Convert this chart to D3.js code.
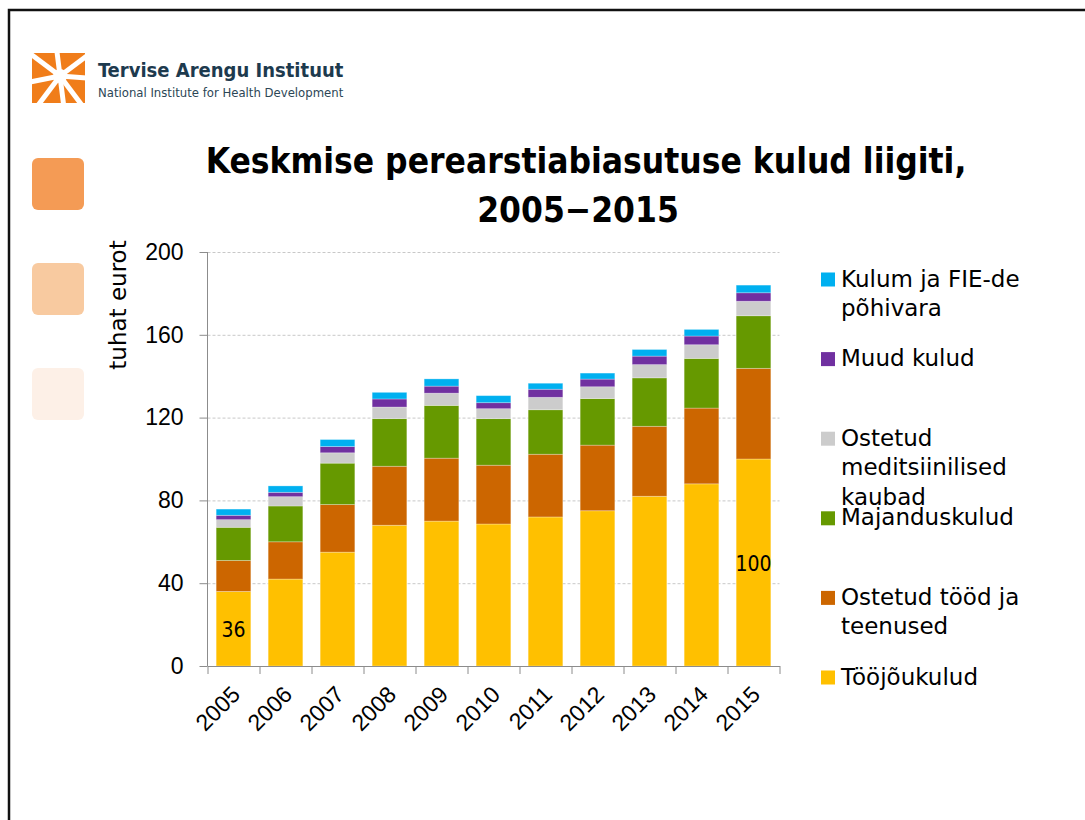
<!DOCTYPE html>
<meta charset="utf-8">
<style>

body {
  margin: 0;
  background: #fff;
}

svg {
  display: block;
  font-family: 'DejaVu Sans Condensed', 'DejaVu Sans', sans-serif;
}

.title
{
    font-size: 35px;
    font-weight: bold;
}

.tick text
{
    font-size: 23px;
    fill: #000;
}

.legend, .ylabel
{
    font-family: 'DejaVu Sans', sans-serif;
    font-size: 23px;
}

.grid line
{
    stroke: #c8c8c8;
    stroke-dasharray: 3,2;
}

</style>
<body>
<div id='chart'></div>
<script src="https://cdn.jsdelivr.net/npm/d3@7"></script>
<script>
// values in thousand euros
var years = ['2005','2006','2007','2008','2009','2010','2011','2012','2013','2014','2015']
var toojoukulud = [36, 42, 55, 68, 70, 68.6, 72, 75, 82, 88, 100]
var ostetudTood = [15, 18, 23, 28.5, 30.4, 28.4, 30.3, 31.7, 33.8, 36.6, 43.8]
var majanduskulud = [16, 17.3, 20, 23, 25.5, 22.5, 21.5, 22.5, 23.4, 24, 25.4]
var meditsiin = [3.7, 4.5, 5, 5.6, 5.9, 4.8, 6, 5.7, 6.4, 6.6, 7]
var muudKulud = [2.1, 2.1, 3, 3.9, 3.4, 2.9, 3.9, 3.7, 4.1, 4.2, 4.1]
var kulum = [3, 3.1, 3.4, 3.2, 3.5, 3.4, 2.9, 2.9, 3.2, 3.2, 3.7]

var seriesKeys = ['toojoukulud','ostetudTood','majanduskulud','meditsiin','muudKulud','kulum']
var seriesValues = [toojoukulud, ostetudTood, majanduskulud, meditsiin, muudKulud, kulum]
var seriesColors = ['#ffc000','#cc6600','#669900','#cccccc','#7030a0','#00b0f0']
var legendLabels = [
  ['Tööjõukulud'],
  ['Ostetud tööd ja','teenused'],
  ['Majanduskulud'],
  ['Ostetud','meditsiinilised','kaubad'],
  ['Muud kulud'],
  ['Kulum ja FIE-de','põhivara']
]
var yTicks = [0, 40, 80, 120, 160, 200]
var labelled = {'2005': 36, '2015': 100}

var svg = d3.select('#chart')
            .append('svg')
            .attr('width', 1085)
            .attr('height', 820)

// slide frame
svg.append('path')
   .attr('d', 'M9,822 L9,10 L1090,10')
   .attr('fill', 'none')
   .attr('stroke', '#111')
   .attr('stroke-width', 2.5)

// logo
var logo = svg.append('g')
logo.append('rect')
    .attr('x', 32).attr('y', 53)
    .attr('width', 53).attr('height', 50)
    .attr('fill', '#f07d1a')
var rays = [[-40,-30],[-5,-40],[40,-30],[-40,8],[40,3],[-30,40],[5,40],[30,40]]
rays.forEach(function(r){
  logo.append('line')
      .attr('x1', 60).attr('y1', 76)
      .attr('x2', 60 + r[0]).attr('y2', 76 + r[1])
      .attr('stroke', '#fff')
      .attr('stroke-width', 5)
})
logo.append('circle')
    .attr('cx', 60).attr('cy', 76).attr('r', 7)
    .attr('fill', '#fff')

svg.append('text')
   .attr('x', 98)
   .attr('y', 77)
   .attr('font-size', 20)
   .attr('font-weight', 'bold')
   .attr('fill', '#1d3a4e')
   .text('Tervise Arengu Instituut')

svg.append('text')
   .attr('x', 98)
   .attr('y', 97)
   .attr('font-size', 11.7)
   .attr('font-family', 'DejaVu Sans, sans-serif')
   .attr('fill', '#2c4656')
   .text('National Institute for Health Development')

// decorative squares on the left
var squareColors = ['#f49b55', '#f8caa0', '#fdf0e7']
squareColors.forEach(function(c, i){
  svg.append('rect')
     .attr('x', 32).attr('y', 158 + i*105)
     .attr('width', 52).attr('height', 52)
     .attr('rx', 6)
     .attr('fill', c)
})

// title
svg.append('text')
   .attr('class', 'title')
   .attr('x', 586)
   .attr('y', 173)
   .attr('text-anchor', 'middle')
   .text('Keskmise perearstiabiasutuse kulud liigiti,')

svg.append('text')
   .attr('class', 'title')
   .attr('x', 578)
   .attr('y', 222)
   .attr('text-anchor', 'middle')
   .text('2005\u22122015')

// scales
var x = d3.scaleBand()
          .domain(years)
          .range([207.5, 779.5])
          .paddingInner(1/3)
          .paddingOuter(1/6)

var y = d3.scaleLinear()
          .domain([0, 200])
          .range([666, 252])

// gridlines
svg.append('g')
   .attr('class', 'grid')
   .attr('transform', 'translate(207.5,0)')
   .call(d3.axisLeft(y).tickValues(yTicks.slice(1)).tickSize(-572).tickFormat(''))
   .call(function(g){ g.select('.domain').remove() })

// y axis
var yAxis = svg.append('g')
   .attr('transform', 'translate(207.5,0)')
   .call(d3.axisLeft(y).tickValues(yTicks).tickSize(8).tickPadding(16))
yAxis.select('.domain').attr('stroke', '#8c8c8c').attr('d', 'M0,252V666')
yAxis.selectAll('.tick line').attr('stroke', '#8c8c8c')

svg.append('text')
   .attr('class', 'ylabel')
   .attr('transform', 'translate(126,305) rotate(-90)')
   .attr('text-anchor', 'middle')
   .text('tuhat eurot')

// stacked bars
var table = years.map(function(yr, i){
  var row = {year: yr}
  seriesKeys.forEach(function(k, j){ row[k] = seriesValues[j][i] })
  return row
})
var stacked = d3.stack().keys(seriesKeys)(table)

svg.append('g')
   .selectAll('g')
   .data(stacked)
   .enter().append('g')
   .attr('fill', function(d, i){ return seriesColors[i] })
   .selectAll('rect')
   .data(function(d){ return d })
   .enter().append('rect')
   .attr('x', function(d){ return x(d.data.year) })
   .attr('y', function(d){ return y(d[1]) })
   .attr('width', x.bandwidth())
   .attr('height', function(d){ return y(d[0]) - y(d[1]) })
   .attr('stroke', 'rgba(255,255,255,0.35)')
   .attr('stroke-width', 0.8)

// data labels on the first and last bar
stacked[0].filter(function(d){ return labelled[d.data.year] !== undefined })
  .forEach(function(d){
    svg.append('text')
       .attr('x', x(d.data.year) + x.bandwidth()/2)
       .attr('y', (y(d[0]) + y(d[1]))/2 + 8)
       .attr('text-anchor', 'middle')
       .attr('font-size', 21)
       .text(labelled[d.data.year])
  })

// x axis
var xAxis = svg.append('g')
   .attr('transform', 'translate(0,666)')
   .call(d3.axisBottom(x).tickSize(0).tickPadding(0))
xAxis.select('.domain').attr('stroke', '#8c8c8c')
xAxis.selectAll('.tick text')
     .attr('text-anchor', 'end')
     .attr('transform', 'translate(8,30) rotate(-45)')
     .attr('dy', 0)

var xb = d3.scaleLinear().domain([0, years.length]).range([207.5, 779.5])
svg.append('g')
   .attr('transform', 'translate(0,666)')
   .call(d3.axisBottom(xb).ticks(years.length).tickSize(8).tickFormat(''))
   .call(function(g){
     g.select('.domain').remove()
     g.selectAll('.tick line').attr('stroke', '#8c8c8c')
   })

// legend
var legend = svg.append('g')
legendLabels.forEach(function(lines, i){
  var by = 684.5 - i*79.6
  legend.append('rect')
        .attr('x', 821).attr('y', by - 14)
        .attr('width', 14).attr('height', 14)
        .attr('fill', seriesColors[i])
  lines.forEach(function(line, j){
    legend.append('text')
          .attr('class', 'legend')
          .attr('x', 841)
          .attr('y', by + j*29.5)
          .text(line)
  })
})

</script>
</body>
